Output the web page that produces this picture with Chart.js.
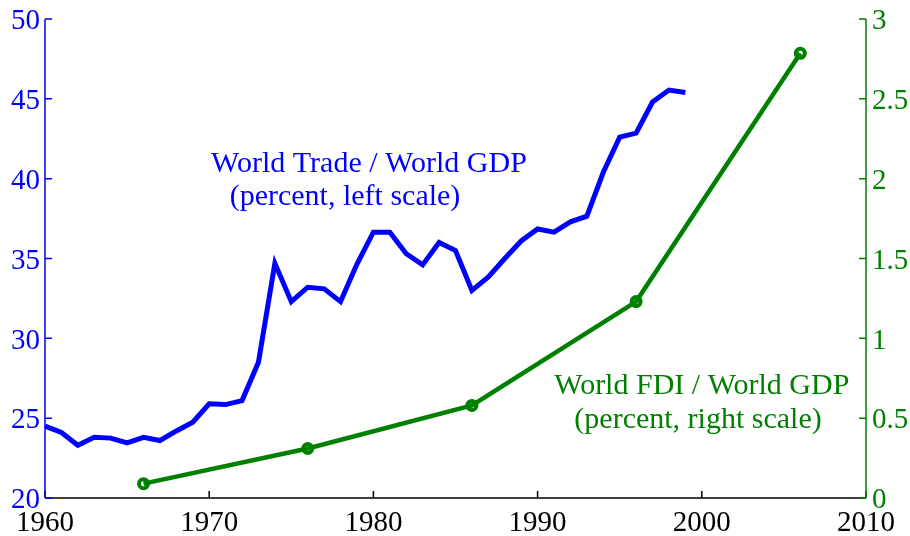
<!DOCTYPE html>
<html>
<head>
<meta charset="utf-8">
<script src="https://cdn.jsdelivr.net/npm/chart.js@4/dist/chart.umd.min.js"></script>
<style>
  html, body { margin: 0; padding: 0; background: #fff; }
  #wrap { width: 910px; height: 536px; }
</style>
</head>
<body>
<div id="wrap"><canvas id="c" width="910" height="536"></canvas></div>
<script>
// ---- Data ----
const tradeYears = [1960,1961,1962,1963,1964,1965,1966,1967,1968,1969,
                    1970,1971,1972,1973,1974,1975,1976,1977,1978,1979,
                    1980,1981,1982,1983,1984,1985,1986,1987,1988,1989,
                    1990,1991,1992,1993,1994,1995,1996,1997,1998,1999];
const tradeShare = [24.5,24.1,23.3,23.8,23.75,23.45,23.8,23.6,24.2,24.75,
                    25.9,25.85,26.1,28.5,34.7,32.3,33.2,33.1,32.3,34.65,
                    36.65,36.65,35.3,34.6,36.0,35.5,33.0,33.85,35.0,36.1,
                    36.85,36.65,37.3,37.65,40.4,42.6,42.85,44.8,45.55,45.4];
const fdiYears = [1966,1976,1986,1996,2006];
const fdiShare = [0.09,0.31,0.58,1.23,2.785];

const xTicks = [1960,1970,1980,1990,2000,2010];
const leftTicks = [20,25,30,35,40,45,50];
const rightTicks = [0,0.5,1,1.5,2,2.5,3];

const tradeLabel = ['World Trade / World GDP', '(percent, left scale)'];
const fdiLabel = ['World FDI / World GDP', '(percent, right scale)'];

const BLUE = '#0000ff';
const GREEN = '#008000';
const FONT = "'Liberation Serif', 'Times New Roman', serif";

const tradeData = tradeYears.map((y, i) => ({x: y, y: tradeShare[i]}));
const fdiData = fdiYears.map((y, i) => ({x: y, y: fdiShare[i]}));

// ---- Plugin: axes lines, inward ticks, annotations ----
const axesPlugin = {
  id: 'matlabAxes',
  afterDraw(chart) {
    const ctx = chart.ctx;
    const a = chart.chartArea;
    const xs = chart.scales.x, yl = chart.scales.yL, yr = chart.scales.yR;
    const TL = 7;
    ctx.save();
    ctx.lineWidth = 1.5;
    // bottom axis
    ctx.strokeStyle = '#000';
    ctx.beginPath();
    ctx.moveTo(a.left, a.bottom); ctx.lineTo(a.right, a.bottom);
    xTicks.forEach(v => {
      const px = xs.getPixelForValue(v);
      ctx.moveTo(px, a.bottom); ctx.lineTo(px, a.bottom - TL);
    });
    ctx.stroke();
    // left axis
    ctx.strokeStyle = BLUE;
    ctx.beginPath();
    ctx.moveTo(a.left, a.top); ctx.lineTo(a.left, a.bottom);
    leftTicks.forEach(v => {
      const py = yl.getPixelForValue(v);
      ctx.moveTo(a.left, py); ctx.lineTo(a.left + TL, py);
    });
    ctx.stroke();
    // right axis
    ctx.strokeStyle = GREEN;
    ctx.beginPath();
    ctx.moveTo(a.right, a.top); ctx.lineTo(a.right, a.bottom);
    rightTicks.forEach(v => {
      const py = yr.getPixelForValue(v);
      ctx.moveTo(a.right, py); ctx.lineTo(a.right - TL, py);
    });
    ctx.stroke();

    // annotations
    ctx.font = '30px ' + FONT;
    ctx.textAlign = 'center';
    ctx.textBaseline = 'alphabetic';
    ctx.fillStyle = BLUE;
    ctx.fillText(tradeLabel[0], xs.getPixelForValue(1979.73), yl.getPixelForValue(40.42));
    ctx.fillText(tradeLabel[1], xs.getPixelForValue(1978.27), yl.getPixelForValue(38.35));
    ctx.fillStyle = GREEN;
    ctx.fillText(fdiLabel[0], xs.getPixelForValue(2000.0), yr.getPixelForValue(0.651));
    ctx.fillText(fdiLabel[1], xs.getPixelForValue(1999.77), yr.getPixelForValue(0.438));
    ctx.restore();
  }
};

// y labels: an empty first line nudges the digits slightly below the tick, as in the original
const yLabel = v => ['', String(v)];

new Chart(document.getElementById('c'), {
  type: 'line',
  data: {
    datasets: [
      {
        data: tradeData,
        yAxisID: 'yL',
        borderColor: BLUE,
        borderWidth: 5,
        pointRadius: 0,
        tension: 0,
        fill: false,
        borderJoinStyle: 'miter'
      },
      {
        data: fdiData,
        yAxisID: 'yR',
        borderColor: GREEN,
        borderWidth: 4.5,
        pointRadius: 4.5,
        pointBorderWidth: 4,
        pointBorderColor: GREEN,
        pointBackgroundColor: 'rgba(0,0,0,0)',
        tension: 0,
        fill: false
      }
    ]
  },
  options: {
    responsive: false,
    animation: false,
    devicePixelRatio: 1,
    clip: false,
    layout: { padding: { top: 19, left: 0, right: 0, bottom: 0 } },
    plugins: { legend: { display: false }, tooltip: { enabled: false } },
    scales: {
      x: {
        type: 'linear',
        min: 1960, max: 2010,
        afterBuildTicks: s => { s.ticks = xTicks.map(v => ({value: v})); },
        afterFit: s => { s.height = 38; },
        grid: { display: false, drawTicks: false },
        border: { display: false },
        ticks: {
          color: '#000',
          font: { family: FONT, size: 29 },
          padding: 8,
          maxRotation: 0,
          autoSkip: false,
          callback: v => String(v)
        }
      },
      yL: {
        type: 'linear',
        position: 'left',
        min: 20, max: 50,
        afterBuildTicks: s => { s.ticks = leftTicks.map(v => ({value: v})); },
        afterFit: s => { s.width = 45; },
        grid: { display: false, drawTicks: false },
        border: { display: false },
        ticks: {
          color: BLUE,
          font: { family: FONT, size: 29, lineHeight: 0.18 },
          padding: 5,
          callback: yLabel
        }
      },
      yR: {
        type: 'linear',
        position: 'right',
        min: 0, max: 3,
        afterBuildTicks: s => { s.ticks = rightTicks.map(v => ({value: v})); },
        afterFit: s => { s.width = 44; },
        grid: { display: false, drawTicks: false },
        border: { display: false },
        ticks: {
          color: GREEN,
          font: { family: FONT, size: 29, lineHeight: 0.18 },
          padding: 6,
          callback: yLabel
        }
      }
    }
  },
  plugins: [axesPlugin]
});
</script>
</body>
</html>
